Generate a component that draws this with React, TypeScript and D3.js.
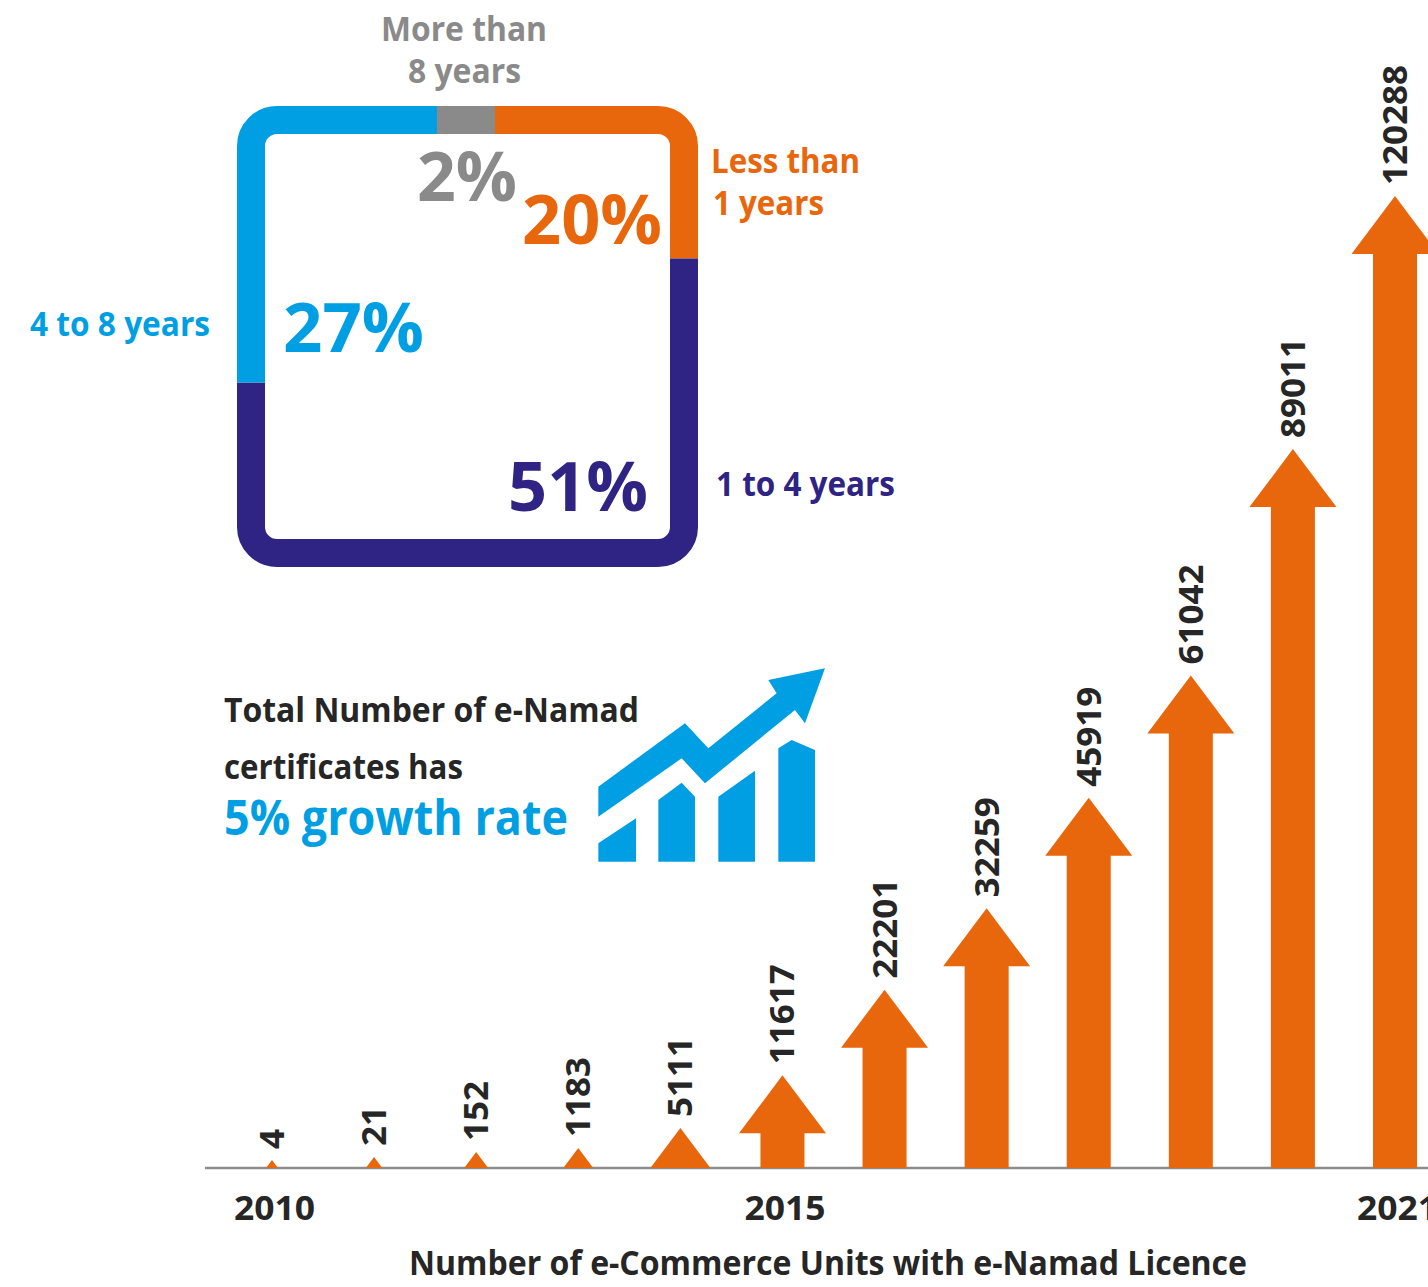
import React from "react";
import * as d3 from "d3";

// Licensed e-commerce units per year
const years = [2010, 2011, 2012, 2013, 2014, 2015, 2016, 2017, 2018, 2019, 2020, 2021];
const units = [4, 21, 152, 1183, 5111, 11617, 22201, 32259, 45919, 61042, 89011, 120288];
const labelledYears = [2010, 2015, 2021];

// Age of licence shares, clockwise around the frame from the top
const ageGroups = ["Less than 1 years", "1 to 4 years", "4 to 8 years", "More than 8 years"];
const ageShares = [20, 51, 27, 2];

const ORANGE = "#E8660C";
const NAVY = "#2F2483";
const BLUE = "#009FE3";
const GRAY = "#8A8A8A";
const INK = "#262626";
const ageColors = [ORANGE, NAVY, BLUE, GRAY];
const FONT = "'Open Sans', 'Noto Sans', sans-serif";

const BASE_Y = 1168;

const x = d3.scalePoint<number>().domain(years).range([272, 1395]);

// Height scale is stretched near zero so the tiniest years stay visible
const height = d3
  .scaleLinear()
  .domain([0, 4, 21, 152, 1183, 5111, 120288])
  .range([0, 8, 11, 16, 20, 40, 972]);

const HEAD_H = 58;
const HEAD_RATIO = 1.5;
const SHAFT_W = 44;

function arrowPath(cx: number, h: number): string {
  const p = d3.path();
  const tip = BASE_Y - h;
  const headH = Math.min(h, HEAD_H);
  const half = (headH * HEAD_RATIO) / 2;
  p.moveTo(cx, tip);
  p.lineTo(cx + half, tip + headH);
  if (h > HEAD_H) {
    p.lineTo(cx + SHAFT_W / 2, tip + headH);
    p.lineTo(cx + SHAFT_W / 2, BASE_Y);
    p.lineTo(cx - SHAFT_W / 2, BASE_Y);
    p.lineTo(cx - SHAFT_W / 2, tip + headH);
  }
  p.lineTo(cx - half, tip + headH);
  p.closePath();
  return p.toString();
}

// Rounded-square ring: centre line of the stroke, starting on the top edge
const RING = { left: 251, top: 120, right: 684, bottom: 553, r: 26, startX: 495, width: 28 };

function ringPath(): string {
  const { left, top, right, bottom, r, startX } = RING;
  const p = d3.path();
  p.moveTo(startX, top);
  p.lineTo(right - r, top);
  p.arcTo(right, top, right, top + r, r);
  p.lineTo(right, bottom - r);
  p.arcTo(right, bottom, right - r, bottom, r);
  p.lineTo(left + r, bottom);
  p.arcTo(left, bottom, left, bottom - r, r);
  p.lineTo(left, top + r);
  p.arcTo(left, top, left + r, top, r);
  p.lineTo(startX, top);
  return p.toString();
}

const ringLength = d3.scaleLinear().domain([0, 2, 20, 27, 51]).range([0, 58, 316, 437, 875]);
const ringTotal = d3.sum(ageShares, (s) => ringLength(s));
const ringOffsets = d3.cumsum(ageShares, (s) => ringLength(s));

type LabelProps = {
  x: number;
  y: number;
  w: number;
  size: number;
  fill: string;
  weight?: number;
  children: React.ReactNode;
};

function Label({ x: lx, y, w, size, fill, weight = 700, children }: LabelProps) {
  return (
    <text
      x={lx}
      y={y}
      fontSize={size}
      fontWeight={weight}
      fill={fill}
      fontFamily={FONT}
      textLength={w}
      lengthAdjust="spacingAndGlyphs"
    >
      {children}
    </text>
  );
}

function GrowthIcon() {
  const shapes = [
    "55,410 315,220 385,295 590,130 565,90 735,55 675,220 645,180 375,400 305,325 55,500",
    "55,580 168,505 168,635 55,635",
    "235,450 305,398 345,440 345,635 235,635",
    "415,440 525,362 525,635 415,635",
    "595,295 635,270 705,300 705,635 595,635",
  ];
  return (
    <g transform="translate(580,650) scale(0.3333)">
      {shapes.map((pts) => (
        <polygon key={pts} points={pts} fill={BLUE} />
      ))}
    </g>
  );
}

export default function App() {
  const ring = ringPath();
  return (
    <svg
      width={1428}
      height={1287}
      viewBox="0 0 1428 1287"
      style={{ position: "absolute", left: 0, top: 0, background: "#fff", display: "block" }}
    >
      {/* Licence-age frame */}
      {ageShares.map((s, i) => {
        const len = ringLength(s);
        const start = i === 0 ? 0 : ringOffsets[i - 1];
        return (
          <path
            key={ageGroups[i]}
            d={ring}
            fill="none"
            stroke={ageColors[i]}
            strokeWidth={RING.width}
            pathLength={ringTotal}
            strokeDasharray={`${len} ${ringTotal - len}`}
            strokeDashoffset={-start}
          />
        );
      })}

      <Label x={381} y={41} w={166} size={34} fill={GRAY}>More than</Label>
      <Label x={408} y={83} w={113} size={34} fill={GRAY}>8 years</Label>
      <Label x={711} y={173} w={149} size={34} fill={ORANGE}>Less than</Label>
      <Label x={713} y={215} w={111} size={34} fill={ORANGE}>1 years</Label>
      <Label x={30} y={336} w={180} size={34} fill={BLUE}>4 to 8 years</Label>
      <Label x={716} y={496} w={179} size={34} fill={NAVY}>1 to 4 years</Label>

      <Label x={417} y={201} w={100} size={68} fill={GRAY}>{`${ageShares[3]}%`}</Label>
      <Label x={522} y={244} w={140} size={68} fill={ORANGE}>{`${ageShares[0]}%`}</Label>
      <Label x={283} y={352} w={141} size={68} fill={BLUE}>{`${ageShares[2]}%`}</Label>
      <Label x={508} y={511} w={140} size={68} fill={NAVY}>{`${ageShares[1]}%`}</Label>

      {/* Growth note */}
      <Label x={224} y={722} w={415} size={34} fill={INK}>Total Number of e-Namad</Label>
      <Label x={224} y={779} w={239} size={34} fill={INK}>certificates has</Label>
      <Label x={224} y={835} w={344} size={48} fill={BLUE}>5% growth rate</Label>
      <GrowthIcon />

      {/* Baseline */}
      <line x1={205} x2={1428} y1={BASE_Y} y2={BASE_Y} stroke="#8C8C8C" strokeWidth={2.5} />

      {/* Arrows with rotated value labels */}
      {years.map((yr, i) => {
        const cx = x(yr) as number;
        const h = height(units[i]);
        return (
          <g key={yr}>
            <path d={arrowPath(cx, h)} fill={ORANGE} />
            <text
              transform={`translate(${cx + 12},${BASE_Y - h - 11}) rotate(-90)`}
              fontSize={34}
              fontWeight={700}
              fill={INK}
              fontFamily={FONT}
              textLength={String(units[i]).length * 20}
              lengthAdjust="spacingAndGlyphs"
            >
              {units[i]}
            </text>
          </g>
        );
      })}

      {/* Year labels */}
      {labelledYears.map((yr) => (
        <text
          key={yr}
          x={(x(yr) as number) + 2.5}
          y={1220}
          textAnchor="middle"
          fontSize={34}
          fontWeight={700}
          fill={INK}
          fontFamily={FONT}
          textLength={81}
          lengthAdjust="spacingAndGlyphs"
        >
          {yr}
        </text>
      ))}
      <Label x={409} y={1275} w={838} size={34} fill={INK}>
        Number of e-Commerce Units with e-Namad Licence
      </Label>
    </svg>
  );
}
